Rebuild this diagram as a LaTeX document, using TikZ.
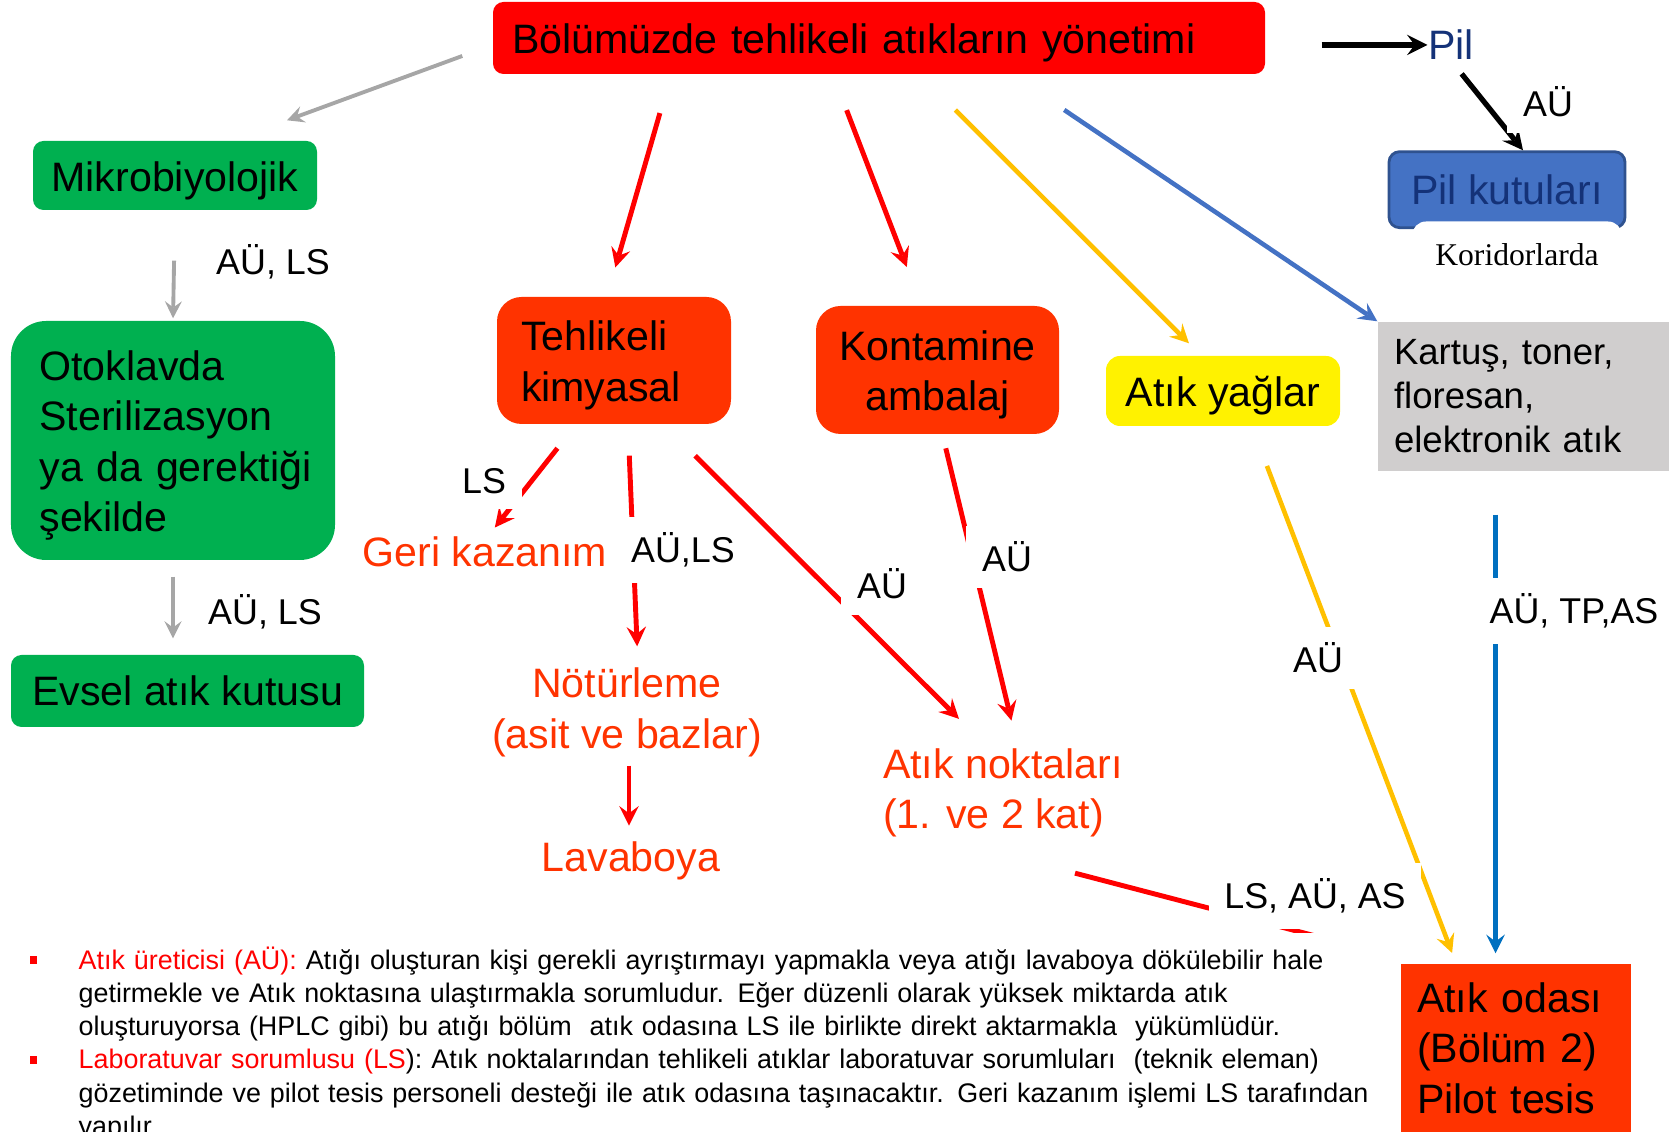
\documentclass[tikz,border=0pt]{standalone}
\usepackage{fontspec}
\setmainfont{Liberation Sans}
\newfontfamily\korfont{Liberation Serif}
\definecolor{tgreen}{RGB}{0,176,80}
\definecolor{tred}{RGB}{255,51,0}
\definecolor{tgray}{RGB}{208,206,206}
\definecolor{tblue}{RGB}{68,114,196}
\definecolor{tbluev}{RGB}{0,112,192}
\definecolor{tnavy}{RGB}{20,50,120}
\definecolor{tyellow}{RGB}{255,192,0}
\definecolor{tarrgray}{RGB}{166,166,166}
\definecolor{pkborder}{RGB}{47,82,143}
\newcommand\bxs{\rule{0pt}{11.3pt}}
\newcommand\notebullet{\makebox[0.53cm][l]{\hspace{0.04cm}\textcolor{red}{\rule[1.5pt]{0.075cm}{0.075cm}}}}
\tikzset{
big/.style={font=\fontsize{11.7}{14.4}\selectfont},
plainbox/.style={big,inner sep=0pt,align=left},
box/.style={plainbox,execute at begin node=\bxs},
lbl/.style={font=\fontsize{10.2}{12}\selectfont,fill=white,inner sep=4.5pt},
rarr/.style={-stealth,red,line width=1.4pt},
garr/.style={-stealth,tarrgray,line width=1.1pt}
}
\begin{document}
\begin{tikzpicture}
\useasboundingbox (0,0) rectangle (16.8,11.32);
\node[box,fill=red,rounded corners=3pt,minimum width=7.72cm,minimum height=0.72cm,text width=7.34cm](title) at (8.79,10.94){Bölümüzde tehlikeli atıkların yönetimi};
\node[box,fill=tgreen,rounded corners=3pt,minimum width=2.84cm,minimum height=0.69cm](mikro) at (1.75,9.565){Mikrobiyolojik};
\node[box,fill=tgreen,rounded corners=10pt,minimum width=3.24cm,minimum height=2.39cm,text width=2.75cm](oto) at (1.73,6.915){\hspace*{0.04cm}Otoklavda\\\hspace*{0.04cm}Sterilizasyon\\\hspace*{0.04cm}\mbox{ya da gerektiği}\\\hspace*{0.04cm}şekilde};
\node[plainbox,fill=tgreen,rounded corners=3pt,minimum width=3.53cm,minimum height=0.72cm](evsel) at (1.875,4.41){Evsel atık kutusu};
\node[box,fill=tred,rounded corners=7pt,minimum width=2.34cm,minimum height=1.27cm,text width=1.86cm](tk) at (6.14,7.715){Tehlikeli\\kimyasal};
\node[box,fill=tred,rounded corners=7pt,minimum width=2.43cm,minimum height=1.28cm,text width=2.1cm,align=center](ka) at (9.375,7.62){Kontamine\\ambalaj};
\node[box,fill=yellow,rounded corners=4pt,minimum width=2.34cm,minimum height=0.70cm](ay) at (12.23,7.41){Atık yağlar};
\node[plainbox,fill=tgray,font=\fontsize{10.4}{12.5}\selectfont,minimum width=2.91cm,minimum height=1.49cm,text width=2.59cm](kt) at (15.235,7.355){Kartuş, toner,\\floresan,\\elektronik atık};
\node[plainbox,fill=tblue,draw=pkborder,line width=0.8pt,rounded corners=3pt,text=tnavy,minimum width=2.36cm,minimum height=0.76cm](pk) at (15.07,9.423){Pil kutuları};
\node[font=\korfont\fontsize{9}{11}\selectfont,fill=white,rounded corners=4pt,minimum width=2.1cm,minimum height=0.67cm](kor) at (15.17,8.77){Koridorlarda};
\node[big,text=tnavy,inner sep=0pt](pil) at (14.51,10.87){Pil};
\node[plainbox,fill=tred,minimum width=2.30cm,minimum height=1.68cm,text width=1.98cm](ao) at (15.16,0.84){Atık odası\\(Bölüm 2)\\Pilot tesis};
\node[big,text=tred,inner sep=0pt](gk) at (4.85,5.80){Geri kazanım};
\node[big,text=tred,align=center,inner sep=0pt](nt) at (6.27,4.195){Nötürleme\\(asit ve bazlar)};
\node[big,text=tred,inner sep=0pt](lv) at (6.31,2.715){Lavaboya};
\node[big,text=tred,align=left,inner sep=0pt](an) at (10.03,3.39){Atık noktaları\\(1. ve 2 kat)};
%arrows
\draw[garr] ([shift={(-0.3,-0.18)}]title.west) -- ([shift={(1.12,0.2)}]mikro.north);
\draw[garr,shorten <=0.5cm,shorten >=0.02cm] (mikro.south) -- (oto.north);
\draw[garr,shorten <=0.16cm,shorten >=0.16cm] (oto.south) -- (oto.south |- evsel.north);
\draw[rarr,shorten <=0.4cm,shorten >=0.3cm] ([xshift=-2.08cm]title.south) -- ([xshift=-0.07cm]tk.north);
\draw[rarr,shorten <=0.38cm,shorten >=0.41cm] ([xshift=-0.46cm]title.south) -- ([xshift=-0.16cm]ka.north);
\draw[-stealth,tyellow,line width=1.3pt,shorten <=0.5cm,shorten >=0.17cm] ([xshift=0.41cm]title.south) -- ([xshift=-0.22cm]ay.north);
\draw[-stealth,tblue,line width=1.3pt,shorten <=0.63cm] ([xshift=1.33cm]title.south) -- (kt.north west);
\draw[-stealth,line width=1.5pt,shorten <=0.56cm] (title.east |- pil.west) -- (pil.west);
\draw[-stealth,line width=1.5pt,shorten <=0.17cm] (pil.south) -- ([xshift=0.16cm]pk.north);
\draw[rarr,shorten <=0.3cm,shorten >=0.11cm] ([xshift=-0.38cm]tk.south) -- ([xshift=0.03cm]gk.north);
\draw[rarr,shorten <=0.31cm,shorten >=0.21cm] ([xshift=0.14cm]tk.south) -- ([xshift=0.11cm]nt.north);
\draw[rarr,shorten <=0.08cm,shorten >=0.15cm] ([xshift=0.02cm]nt.south) -- ([xshift=0.02cm]nt.south |- lv.north);
\draw[rarr,shorten <=0.44cm,shorten >=0.41cm] ([xshift=0.5cm]tk.south) -- ([xshift=-0.15cm]an.north);
\draw[rarr,shorten <=0.14cm,shorten >=0.28cm] ([xshift=0.05cm]ka.south) -- ([xshift=0.15cm]an.north);
\draw[rarr] ([shift={(0.72,-0.35)}]an.south) -- ([shift={(-0.3,0.13)}]ao.north west);
\draw[-stealth,tyellow,line width=1.3pt,shorten <=0.42cm,shorten >=0.11cm] ([xshift=0.29cm]ay.south) -- ([xshift=-0.6cm]ao.north);
\draw[-stealth,tbluev,line width=1.3pt,shorten <=0.43cm,shorten >=0.1cm] ([xshift=-0.28cm]kt.south) -- ([xshift=-0.28cm]kt.south |- ao.north);
\node[lbl](l1) at (2.73,8.70){AÜ, LS};
\node[lbl](l2) at (2.65,5.20){AÜ, LS};
\node[lbl](l3) at (15.48,10.30){AÜ};
\node[lbl](l4) at (4.84,6.51){LS};
\node[lbl](l5) at (6.83,5.82){AÜ,LS};
\node[lbl](l6) at (8.82,5.48){AÜ};
\node[lbl](l7) at (10.07,5.75){AÜ};
\node[lbl](l8) at (13.18,4.74){AÜ};
\node[lbl](l9) at (15.74,5.21){AÜ, TP,AS};
\node[lbl](l10) at (13.15,2.36){LS, AÜ, AS};
%notes
\node[anchor=north west,fill=white,inner xsep=0pt,inner ysep=4pt,text width=13.75cm,align=left,font=\fontsize{7.65}{9.45}\selectfont](note) at (0.25,2.0){%
\notebullet\hangindent=0.53cm\hangafter=1\textcolor{red}{Atık üreticisi (AÜ):} Atığı oluşturan kişi gerekli ayrıştırmayı yapmakla veya atığı lavaboya dökülebilir hale\newline getirmekle ve Atık noktasına ulaştırmakla sorumludur. Eğer düzenli olarak yüksek miktarda atık\newline oluşturuyorsa (HPLC gibi) bu atığı bölüm\ \ atık odasına LS ile birlikte direkt aktarmakla\ \ yükümlüdür.\par
\notebullet\hangindent=0.53cm\hangafter=1\textcolor{red}{Laboratuvar sorumlusu (LS}): Atık noktalarından tehlikeli atıklar laboratuvar sorumluları\ \ (teknik eleman)\newline gözetiminde ve pilot tesis personeli desteği ile atık odasına taşınacaktır. Geri kazanım işlemi LS tarafından\newline yapılır.\par};
\end{tikzpicture}
\end{document}
